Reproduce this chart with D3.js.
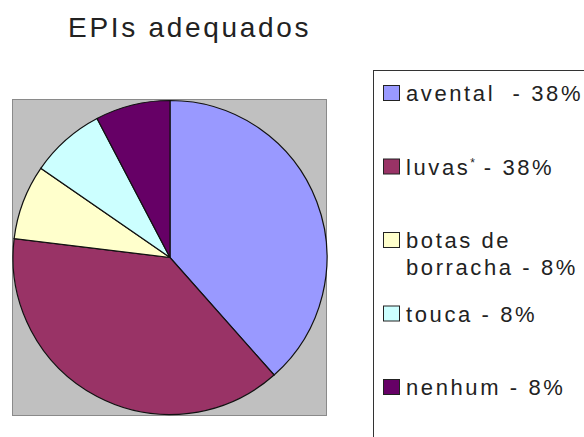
<!DOCTYPE html>
<html>
<head>
<meta charset="utf-8">
<script src="https://cdn.jsdelivr.net/npm/d3@7"></script>
<style>
	body { margin: 0; background: #fff; }
	text { font-family: "Liberation Sans", Arial, sans-serif; fill: #222; }
</style>
</head>
<body>
<div class="chart"></div>
<script>
var WIDTH = 584,
	HEIGHT = 437;

// data (counts out of 13)
var categories = ["avental", "luvas", "botas de borracha", "touca", "nenhum"];
var values = [5, 5, 1, 1, 1];
var colors = ["#9999ff", "#993366", "#ffffcc", "#ccffff", "#660066"];
var labelLines = [["avental  - "], ["luvas", " - "], ["botas de", "borracha - "], ["touca - "], ["nenhum - "]];

var PLOT = { x: 12.5, y: 99.5, w: 314, h: 316 };
var CX = 170, CY = 257.5, R = 157;

var svg = d3.select(".chart").append("svg")
	.attr("width", WIDTH)
	.attr("height", HEIGHT);

svg.append("text")
	.attr("x", 68)
	.attr("y", 37)
	.style("font-size", "28px")
	.style("letter-spacing", "2.7px")
	.text("EPIs adequados");

// gray plot area
svg.append("rect")
	.attr("x", PLOT.x)
	.attr("y", PLOT.y)
	.attr("width", PLOT.w)
	.attr("height", PLOT.h)
	.attr("fill", "#c0c0c0")
	.attr("stroke", "#8a8a8a")
	.attr("stroke-width", 1);

var total = d3.sum(values);
var pie = d3.pie().sort(null).value(function(d) { return d; });
var arc = d3.arc().innerRadius(0).outerRadius(R);

var pieGroup = svg.append("g")
	.attr("transform", "translate(" + CX + "," + CY + ")");

pieGroup.selectAll("path")
	.data(pie(values))
	.enter()
	.append("path")
	.attr("d", arc)
	.attr("fill", function(d, i) { return colors[i]; })
	.attr("stroke", "#111")
	.attr("stroke-width", 1.2);

// legend
var legendBox = svg.append("rect")
	.attr("x", 373.5)
	.attr("y", 70.5)
	.attr("width", 260)
	.attr("height", 400)
	.attr("fill", "#fff")
	.attr("stroke", "#333")
	.attr("stroke-width", 1);

var yLegend = d3.scalePoint()
	.domain(categories)
	.range([101, 395]);

var pct = function(v) { return Math.round(v / total * 100) + "%"; };

var items = svg.selectAll(".legend-item")
	.data(categories)
	.enter()
	.append("g")
	.attr("class", "legend-item")
	.attr("transform", function(d) { return "translate(0," + yLegend(d) + ")"; });

items.append("rect")
	.attr("x", 383.5)
	.attr("y", -15.5)
	.attr("width", 16)
	.attr("height", 15)
	.attr("fill", function(d, i) { return colors[i]; })
	.attr("stroke", "#222")
	.attr("stroke-width", 1);

items.each(function(d, i) {
	var g = d3.select(this);
	var t = g.append("text")
		.attr("x", 406)
		.attr("y", 0)
		.attr("xml:space", "preserve")
		.style("font-size", "22px")
		.style("letter-spacing", "2.6px");
	var lines = labelLines[i];
	if (i === 1) {
		// luvas with small superscript mark
		t.append("tspan").text(lines[0]);
		t.append("tspan")
			.attr("dy", -8)
			.style("font-size", "12px")
			.style("letter-spacing", "0px")
			.text("*");
		t.append("tspan")
			.attr("dy", 8)
			.text(lines[1] + pct(values[i]));
	} else {
		lines.forEach(function(line, j) {
			var isLast = j === lines.length - 1;
			t.append("tspan")
				.attr("x", 406)
				.attr("y", j * 27)
				.text(isLast ? line + pct(values[i]) : line);
		});
	}
});
</script>
</body>
</html>
